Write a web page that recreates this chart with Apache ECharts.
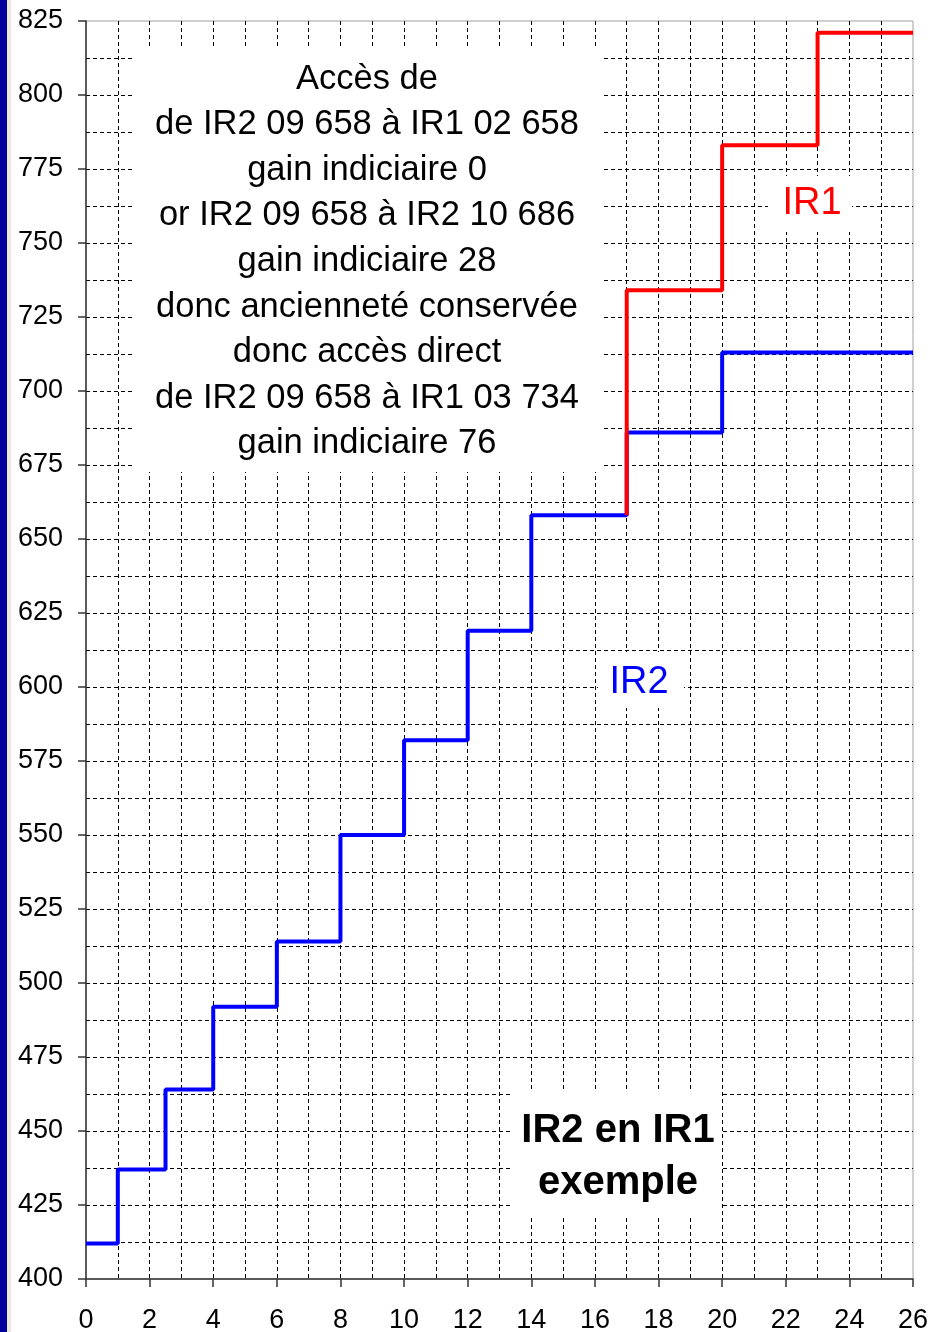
<!DOCTYPE html>
<html>
<head>
<meta charset="utf-8">
<script src="https://cdn.jsdelivr.net/npm/echarts@6/dist/echarts.min.js"></script>
<style>
html,body{margin:0;padding:0;background:#fff;}
#c{width:928px;height:1332px;}
</style>
</head>
<body>
<div id="c"></div>
<script>
// ---- data ----
const ir2X = [0, 1, 2.5, 4, 6, 8, 10, 12, 14, 17, 20, 26];
const ir2Y = [412, 437, 464, 492, 514, 550, 582, 619, 658, 686, 713, 713];
const ir1X = [17, 17, 20, 23, 26];
const ir1Y = [658, 734, 783, 821, 821];
const xTicks = [0, 2, 4, 6, 8, 10, 12, 14, 16, 18, 20, 22, 24, 26];
const yTicks = [400, 425, 450, 475, 500, 525, 550, 575, 600, 625, 650, 675, 700, 725, 750, 775, 800, 825];
const noteLines = [
  'Accès de',
  'de IR2 09 658 à IR1 02 658',
  'gain indiciaire 0',
  'or IR2 09 658 à IR2 10 686',
  'gain indiciaire 28',
  'donc ancienneté conservée',
  'donc accès direct',
  'de IR2 09 658 à IR1 03 734',
  'gain indiciaire 76'
];
const titleLines = ['IR2 en IR1', 'exemple'];

const FONT = '"Liberation Sans", Arial, sans-serif';
const chart = echarts.init(document.getElementById('c'));

const gridStyle = { color: '#000', width: 1, type: [4, 3] };

const graphics = [
  { type: 'rect', shape: { x: 0, y: 0, width: 7, height: 1332 }, style: { fill: '#00009c' }, z: 100 },
  { type: 'rect', shape: { x: 7, y: 0, width: 4, height: 1332 }, style: { fill: '#ece9d8' }, z: 100 },
  // note box
  { type: 'rect', shape: { x: 132, y: 48, width: 472, height: 424 }, style: { fill: '#fff' }, z: 100 },
  // title box
  { type: 'rect', shape: { x: 512, y: 1090, width: 208, height: 127 }, style: { fill: '#fff' }, z: 100 },
  // IR1 label box
  { type: 'rect', shape: { x: 768, y: 176, width: 84, height: 56 }, style: { fill: '#fff' }, z: 100 },
  // IR2 label box
  { type: 'rect', shape: { x: 598, y: 652, width: 86, height: 56 }, style: { fill: '#fff' }, z: 100 },
  { type: 'text', x: 812, y: 204, z: 101, style: { text: 'IR1', fill: '#ff0000', font: '38px ' + FONT, align: 'center', verticalAlign: 'middle' } },
  { type: 'text', x: 639, y: 683, z: 101, style: { text: 'IR2', fill: '#0000ff', font: '38px ' + FONT, align: 'center', verticalAlign: 'middle' } }
];
noteLines.forEach((t, i) => {
  graphics.push({ type: 'text', x: 367, y: 79 + i * 45.6, z: 101,
    style: { text: t, fill: '#000', font: '34.5px ' + FONT, align: 'center', verticalAlign: 'middle' } });
});
titleLines.forEach((t, i) => {
  graphics.push({ type: 'text', x: 618, y: 1131 + i * 52, z: 101,
    style: { text: t, fill: '#000', font: 'bold 40px ' + FONT, align: 'center', verticalAlign: 'middle' } });
});

chart.setOption({
  animation: false,
  backgroundColor: '#fff',
  grid: { left: 86, right: 15, top: 21, bottom: 53, outerBoundsMode: 'none', containLabel: false,
    show: true, borderColor: '#a0a0a0', borderWidth: 1, backgroundColor: '#fff' },
  xAxis: {
    type: 'value', min: 0, max: 26, interval: 2,
    axisLine: { show: true, onZero: false, lineStyle: { color: '#333', width: 1.5 } },
    axisTick: { show: true, inside: false, length: 8, lineStyle: { color: '#333', width: 1.5 } },
    axisLabel: { color: '#000', fontSize: 27, fontFamily: FONT, margin: 28, hideOverlap: false,
      formatter: v => xTicks.includes(v) ? String(v) : '' },
    splitLine: { show: true, showMinLine: false, showMaxLine: false, lineStyle: gridStyle },
    minorTick: { show: false, splitNumber: 2 },
    minorSplitLine: { show: true, lineStyle: gridStyle }
  },
  yAxis: {
    type: 'value', min: 400, max: 825, interval: 25,
    axisLine: { show: true, onZero: false, lineStyle: { color: '#333', width: 1.5 } },
    axisTick: { show: true, inside: false, length: 8, lineStyle: { color: '#333', width: 1.5 } },
    axisLabel: { color: '#000', fontSize: 27, fontFamily: FONT, margin: 23, hideOverlap: false,
      formatter: v => yTicks.includes(v) ? String(v) : '' },
    splitLine: { show: true, showMinLine: false, showMaxLine: false, lineStyle: gridStyle },
    minorTick: { show: false, splitNumber: 2 },
    minorSplitLine: { show: true, lineStyle: gridStyle }
  },
  series: [
    { name: 'IR2', type: 'line', step: 'end', showSymbol: false, symbol: 'none',
      data: ir2X.map((x, i) => [x, ir2Y[i]]),
      lineStyle: { color: '#0000ff', width: 4 }, z: 5 },
    { name: 'IR1', type: 'line', step: 'end', showSymbol: false, symbol: 'none',
      data: ir1X.map((x, i) => [x, ir1Y[i]]),
      lineStyle: { color: '#ff0000', width: 4 }, z: 6 }
  ],
  graphic: graphics
});
</script>
</body>
</html>
